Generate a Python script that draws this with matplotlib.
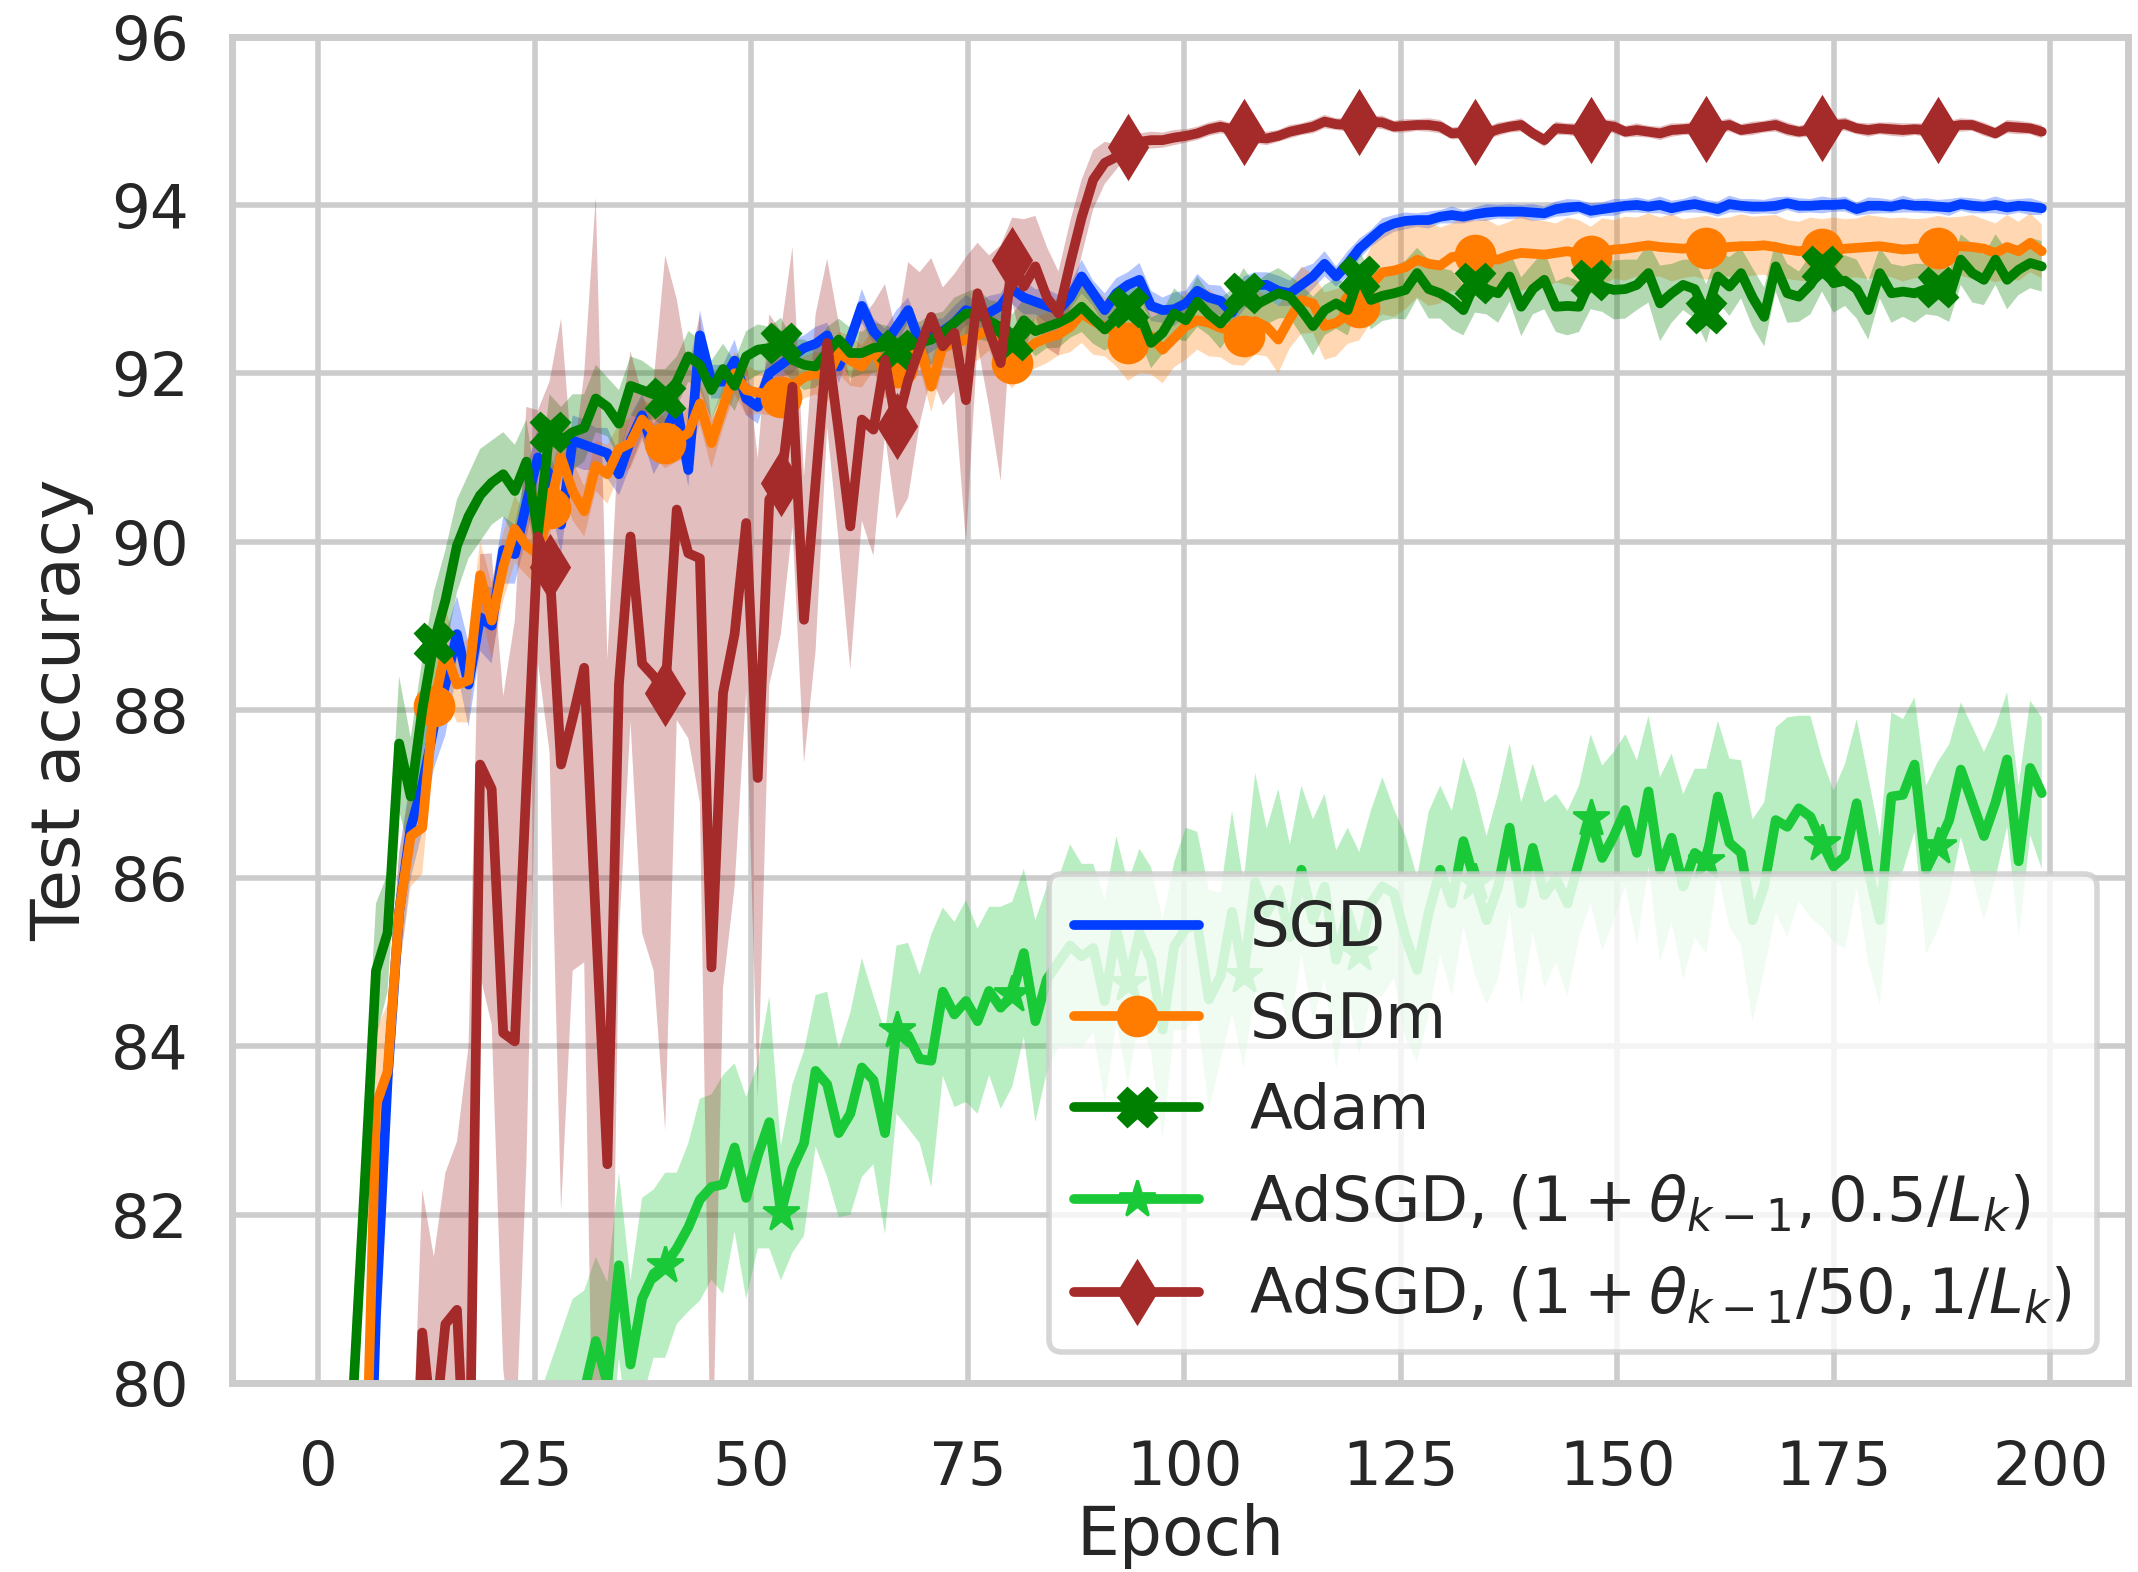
import numpy as np
import matplotlib
matplotlib.use("Agg")
import matplotlib.pyplot as plt
import seaborn as sns

sns.set_theme(style="whitegrid", context="poster")

# 150 evaluations spread over epochs 0..199
epochs = np.linspace(0, 199, 150)

sgd = [35, 55, 66, 72, 76.5, 80.8, 83.6, 85.6, 86.6, 87.1,
       87.8, 88.3, 88.9, 88.3, 89.1, 89.0, 89.9, 89.85, 90.45, 91.0,
       90.8, 90.2, 91.2, 91.15, 91.1, 91.05, 90.8, 91.2, 91.5, 91.1,
       91.3, 91.6, 90.85, 92.45, 91.9, 91.9, 92.15, 91.7, 91.6, 92.0,
       92.1, 92.2, 92.3, 92.35, 92.45, 92.08, 92.4, 92.8, 92.5, 92.35,
       92.55, 92.75, 92.36, 92.45, 92.5, 92.6, 92.75, 92.7, 92.72, 92.8,
       93.0, 92.9, 92.85, 92.8, 92.75, 92.9, 93.15, 92.95, 92.75, 92.95,
       93.05, 93.11, 92.8, 92.75, 92.76, 92.83, 92.98, 92.9, 92.86, 92.72,
       92.95, 93.05, 93.05, 92.98, 92.95, 93.05, 93.15, 93.3, 93.15, 93.3,
       93.48, 93.6, 93.72, 93.78, 93.81, 93.82, 93.82, 93.86, 93.88, 93.86,
       93.89, 93.91, 93.92, 93.92, 93.92, 93.91, 93.9, 93.95, 93.97, 93.98,
       93.93, 93.95, 93.97, 93.99, 94.0, 93.98, 94.0, 93.96, 93.99, 94.01,
       93.98, 93.95, 94.01, 93.99, 93.98, 93.98, 93.99, 94.02, 93.99, 93.99,
       94.0, 94.0, 94.01, 93.95, 93.99, 93.99, 93.98, 94.01, 93.99, 93.99,
       93.98, 93.97, 94.01, 93.99, 93.98, 94.0, 93.97, 93.99, 93.98, 93.96]
sgd_std = [1.0, 1.0, 1.0, 1.0, 1.0, 0.9, 0.8, 0.7, 0.6, 0.55,
           0.5, 0.6, 0.45, 0.5, 0.4, 0.45, 0.4, 0.35, 0.4, 0.35,
           0.3, 0.35, 0.3, 0.3, 0.25, 0.3, 0.25, 0.3, 0.25, 0.3,
           0.25, 0.25, 0.2, 0.3, 0.2, 0.2, 0.25, 0.2, 0.2, 0.2,
           0.15, 0.2, 0.15, 0.2, 0.15, 0.2, 0.15, 0.2, 0.15, 0.18,
           0.2, 0.15, 0.18, 0.2, 0.15, 0.2, 0.18, 0.15, 0.2, 0.15,
           0.18, 0.2, 0.15, 0.2, 0.18, 0.15, 0.2, 0.15, 0.2, 0.18,
           0.15, 0.2, 0.18, 0.15, 0.2, 0.15, 0.2, 0.15, 0.18, 0.15,
           0.2, 0.15, 0.15, 0.18, 0.15, 0.2, 0.15, 0.15, 0.12, 0.15,
           0.12, 0.1, 0.12, 0.1, 0.1, 0.08, 0.1, 0.08, 0.1, 0.08,
           0.08, 0.1, 0.08, 0.09, 0.08, 0.1, 0.08, 0.09, 0.1, 0.08,
           0.09, 0.08, 0.1, 0.08, 0.09, 0.08, 0.1, 0.09, 0.08, 0.1,
           0.08, 0.09, 0.1, 0.08, 0.09, 0.08, 0.1, 0.08, 0.09, 0.08,
           0.1, 0.08, 0.09, 0.08, 0.1, 0.09, 0.08, 0.1, 0.08, 0.09,
           0.08, 0.1, 0.08, 0.09, 0.08, 0.1, 0.09, 0.08, 0.1, 0.08]

sgdm = [33, 52, 64, 71, 78, 83.3, 83.7, 85.6, 86.5, 86.6,
        88.05, 88.7, 88.3, 88.35, 89.6, 89.06, 89.7, 90.15, 89.95, 89.85,
        90.4, 91.0, 90.6, 90.36, 90.9, 90.8, 91.1, 91.17, 91.45, 91.3,
        91.17, 91.2, 91.29, 91.64, 91.17, 91.6, 92.0, 91.8, 91.77, 91.75,
        91.72, 91.85, 91.95, 92.0, 91.95, 92.24, 92.15, 92.08, 92.28, 92.0,
        92.08, 92.2, 92.32, 91.84, 92.32, 92.35, 92.4, 92.45, 92.52, 92.28,
        92.12, 92.25, 92.36, 92.42, 92.46, 92.55, 92.71, 92.62, 92.55, 92.48,
        92.36, 92.4, 92.44, 92.28, 92.42, 92.56, 92.63, 92.6, 92.54, 92.5,
        92.44, 92.62, 92.55, 92.4, 92.65, 92.87, 92.83, 92.56, 92.6, 92.7,
        92.79, 93.05, 93.2, 93.22, 93.26, 93.35, 93.3, 93.28, 93.38, 93.4,
        93.41, 93.38, 93.35, 93.4, 93.43, 93.42, 93.41, 93.43, 93.45, 93.42,
        93.39, 93.44, 93.47, 93.48, 93.5, 93.52, 93.5, 93.49, 93.48, 93.5,
        93.49, 93.49, 93.5, 93.51, 93.51, 93.52, 93.5, 93.47, 93.45, 93.47,
        93.48, 93.47, 93.48, 93.49, 93.5, 93.51, 93.49, 93.47, 93.48, 93.49,
        93.49, 93.5, 93.51, 93.5, 93.48, 93.43, 93.5, 93.45, 93.55, 93.45]
sgdm_std = [1.0, 1.0, 1.0, 1.0, 1.0, 0.9, 0.8, 0.7, 0.6, 0.55,
            0.5, 0.5, 0.45, 0.5, 0.4, 0.45, 0.4, 0.4, 0.35, 0.4,
            0.35, 0.3, 0.35, 0.3, 0.3, 0.35, 0.3, 0.3, 0.25, 0.3,
            0.3, 0.25, 0.3, 0.25, 0.3, 0.25, 0.25, 0.3, 0.25, 0.25,
            0.25, 0.3, 0.25, 0.25, 0.3, 0.25, 0.3, 0.25, 0.25, 0.3,
            0.25, 0.3, 0.25, 0.3, 0.25, 0.3, 0.25, 0.3, 0.25, 0.3,
            0.3, 0.25, 0.3, 0.3, 0.25, 0.3, 0.35, 0.4, 0.35, 0.4,
            0.45, 0.4, 0.45, 0.4, 0.35, 0.4, 0.35, 0.4, 0.35, 0.4,
            0.35, 0.4, 0.35, 0.4, 0.35, 0.4, 0.35, 0.4, 0.4, 0.35,
            0.4, 0.45, 0.5, 0.55, 0.5, 0.45, 0.5, 0.45, 0.4, 0.45,
            0.4, 0.45, 0.4, 0.4, 0.45, 0.4, 0.4, 0.35, 0.4, 0.4,
            0.35, 0.4, 0.35, 0.38, 0.35, 0.38, 0.35, 0.4, 0.35, 0.35,
            0.38, 0.35, 0.35, 0.38, 0.35, 0.35, 0.38, 0.35, 0.35, 0.38,
            0.35, 0.38, 0.35, 0.35, 0.38, 0.35, 0.35, 0.38, 0.35, 0.35,
            0.38, 0.35, 0.35, 0.38, 0.35, 0.35, 0.38, 0.35, 0.35, 0.32]

adam = [40, 60, 72, 79.8, 82.3, 84.9, 85.35, 87.6, 86.97, 88.0,
        88.8, 89.3, 89.95, 90.3, 90.55, 90.7, 90.8, 90.6, 90.95, 90.1,
        91.3, 91.2, 91.3, 91.35, 91.7, 91.6, 91.4, 91.85, 91.8, 91.75,
        91.7, 91.9, 92.2, 92.1, 91.8, 92.05, 91.85, 92.2, 92.28, 92.3,
        92.36, 92.16, 92.1, 92.08, 92.25, 92.4, 92.24, 92.24, 92.3, 92.32,
        92.28, 92.32, 92.36, 92.4, 92.48, 92.6, 92.71, 92.71, 92.62, 92.55,
        92.4, 92.63, 92.5, 92.55, 92.6, 92.67, 92.79, 92.65, 92.52, 92.65,
        92.79, 92.71, 92.36, 92.48, 92.71, 92.63, 92.85, 92.7, 92.59, 92.75,
        92.95, 92.81, 92.88, 92.95, 92.91, 92.75, 92.56, 92.75, 92.83, 92.75,
        93.15, 92.87, 92.92, 92.95, 92.99, 93.19, 93.0, 92.95, 92.87, 92.75,
        93.07, 93.0, 92.95, 93.15, 92.79, 93.0, 93.11, 92.79, 92.8, 92.79,
        93.11, 93.03, 92.99, 93.0, 93.05, 93.19, 92.83, 92.95, 93.05, 93.0,
        92.71, 93.15, 93.03, 93.19, 92.9, 92.67, 93.27, 92.95, 92.91, 93.05,
        93.27, 93.07, 93.1, 93.0, 92.75, 93.19, 92.95, 92.97, 92.95, 93.0,
        93.03, 92.91, 93.35, 93.19, 93.11, 93.35, 93.11, 93.23, 93.31, 93.27]
adam_std = [1.0, 1.0, 1.0, 1.0, 0.9, 0.8, 0.7, 0.8, 0.7, 0.6,
            0.6, 0.6, 0.55, 0.5, 0.55, 0.5, 0.5, 0.55, 0.5, 0.45,
            0.45, 0.4, 0.45, 0.4, 0.4, 0.35, 0.4, 0.35, 0.35, 0.3,
            0.35, 0.3, 0.3, 0.3, 0.35, 0.3, 0.3, 0.3, 0.3, 0.25,
            0.3, 0.25, 0.3, 0.25, 0.3, 0.25, 0.3, 0.25, 0.3, 0.25,
            0.25, 0.3, 0.25, 0.3, 0.25, 0.3, 0.25, 0.3, 0.25, 0.3,
            0.3, 0.25, 0.3, 0.25, 0.3, 0.25, 0.3, 0.3, 0.25, 0.3,
            0.25, 0.3, 0.3, 0.25, 0.3, 0.25, 0.3, 0.25, 0.3, 0.25,
            0.3, 0.25, 0.3, 0.3, 0.25, 0.3, 0.35, 0.3, 0.3, 0.3,
            0.3, 0.35, 0.3, 0.3, 0.35, 0.3, 0.35, 0.3, 0.35, 0.3,
            0.35, 0.3, 0.35, 0.3, 0.35, 0.3, 0.35, 0.3, 0.35, 0.3,
            0.35, 0.3, 0.35, 0.35, 0.3, 0.35, 0.45, 0.35, 0.3, 0.35,
            0.35, 0.3, 0.35, 0.3, 0.35, 0.35, 0.3, 0.35, 0.3, 0.35,
            0.3, 0.35, 0.3, 0.35, 0.35, 0.3, 0.35, 0.3, 0.35, 0.3,
            0.35, 0.3, 0.3, 0.35, 0.3, 0.3, 0.35, 0.3, 0.3, 0.3]

adsgd_a = [35, 45, 52, 57, 61, 64, 66, 68, 70, 71,
           72.5, 73.5, 74.5, 75.5, 76, 76.8, 77.5, 78, 78.5, 78.8,
           79.2, 79.5, 79.7, 79.9, 80.5, 80.0, 81.4, 80.22, 81.0, 81.3,
           81.4, 81.6, 81.85, 82.18, 82.33, 82.36, 82.8, 82.2, 82.7, 83.1,
           82.02, 82.55, 82.85, 83.71, 83.55, 82.97, 83.2, 83.75, 83.6, 82.97,
           84.2, 84.13, 83.85, 83.83, 84.65, 84.38, 84.54, 84.3, 84.66, 84.46,
           84.62, 85.11, 84.3, 84.8, 85.0, 85.2, 85.07, 85.17, 84.54, 85.4,
           84.75, 85.35, 85.03, 84.2, 85.19, 85.4, 85.45, 84.56, 84.83, 85.6,
           84.85, 85.95, 85.59, 85.86, 85.3, 86.1, 85.5, 85.9, 85.03, 85.6,
           85.11, 85.7, 85.9, 85.82, 85.3, 84.91, 85.59, 86.1, 85.7, 86.44,
           85.95, 85.5, 85.9, 86.6, 85.7, 86.36, 85.8, 86.0, 85.7, 86.2,
           86.71, 86.24, 86.5, 86.81, 86.3, 87.03, 86.1, 86.48, 85.9, 86.3,
           86.2, 86.97, 86.42, 86.3, 85.5, 85.9, 86.69, 86.61, 86.83, 86.73,
           86.42, 86.14, 86.26, 86.89, 86.1, 85.5, 86.97, 86.99, 87.35, 86.1,
           86.38, 86.69, 87.29, 86.9, 86.5, 86.9, 87.41, 86.2, 87.31, 87.01]
adsgd_a_std = [1.0, 1.0, 1.0, 1.0, 1.0, 1.0, 1.0, 1.0, 1.0, 1.0,
               1.0, 1.0, 1.0, 1.0, 1.0, 1.0, 1.0, 1.0, 1.0, 1.0,
               1.0, 1.1, 1.3, 1.2, 1.0, 1.2, 1.1, 1.0, 1.2, 1.0,
               1.1, 0.9, 1.0, 1.2, 1.1, 1.3, 1.0, 1.2, 1.1, 1.5,
               0.8, 1.0, 1.1, 0.9, 1.1, 1.0, 1.2, 1.3, 1.0, 1.2,
               1.0, 1.1, 1.0, 1.5, 1.0, 1.1, 1.2, 1.1, 1.0, 1.2,
               1.1, 1.0, 1.2, 1.1, 1.0, 1.2, 1.1, 1.0, 1.2, 1.1,
               1.2, 1.0, 1.1, 1.3, 1.0, 1.2, 1.1, 1.3, 1.0, 1.2,
               1.1, 1.3, 1.0, 1.2, 1.1, 1.0, 1.2, 1.1, 1.3, 1.0,
               1.2, 1.1, 1.3, 1.0, 1.2, 1.1, 1.2, 1.0, 1.1, 1.0,
               1.1, 1.0, 1.1, 1.0, 1.2, 1.0, 1.1, 1.0, 1.1, 0.9,
               1.0, 1.1, 1.0, 0.9, 1.1, 0.9, 1.1, 1.0, 1.1, 1.0,
               1.1, 0.9, 1.0, 1.1, 1.2, 1.0, 1.1, 1.3, 1.1, 1.2,
               1.0, 0.9, 1.1, 1.0, 1.1, 1.0, 1.0, 0.9, 0.8, 1.0,
               1.0, 0.9, 0.8, 0.9, 1.0, 0.9, 0.8, 0.9, 0.8, 0.9]

adsgd_b = [30, 40, 50, 58, 64, 69, 72, 75, 77, 80.6,
           79.3, 80.7, 80.87, 78.0, 87.35, 87.06, 84.16, 84.06, 87.1, 90.06,
           89.7, 87.35, 87.9, 88.5, 85.5, 82.6, 88.3, 90.06, 88.55, 88.4,
           88.2, 90.38, 89.86, 89.8, 84.94, 88.2, 88.9, 90.22, 87.19, 90.5,
           90.7, 91.84, 89.07, 90.7, 92.36, 91.3, 90.18, 91.45, 91.33, 92.16,
           91.37, 91.92, 92.3, 92.67, 92.32, 92.48, 91.68, 92.95, 92.5, 92.12,
           93.35, 93.03, 93.27, 92.9, 92.71, 93.3, 93.85, 94.3, 94.5, 94.57,
           94.69, 94.75, 94.77, 94.77, 94.8, 94.82, 94.85, 94.9, 94.93, 94.9,
           94.87, 94.8, 94.79, 94.82, 94.87, 94.9, 94.93, 94.99, 94.96, 94.95,
           94.99, 94.99, 94.98, 94.93, 94.94, 94.95, 94.95, 94.93, 94.85, 94.86,
           94.87, 94.85, 94.9, 94.93, 94.95, 94.85, 94.77, 94.91, 94.9, 94.89,
           94.89, 94.95, 94.93, 94.87, 94.89, 94.87, 94.85, 94.89, 94.9, 94.91,
           94.9, 94.93, 94.95, 94.89, 94.91, 94.93, 94.95, 94.9, 94.87, 94.89,
           94.91, 94.95, 94.96, 94.91, 94.89, 94.91, 94.9, 94.89, 94.9, 94.89,
           94.89, 94.93, 94.95, 94.95, 94.9, 94.85, 94.93, 94.92, 94.91, 94.87]
adsgd_b_std = [1.0, 1.0, 1.0, 1.0, 1.0, 1.0, 1.0, 1.0, 1.5, 1.7,
               2.2, 1.8, 2.0, 6.0, 2.5, 2.8, 4.0, 5.0, 4.5, 1.5,
               2.2, 5.3, 3.0, 3.5, 8.6, 6.0, 3.0, 2.2, 3.2, 3.5,
               5.2, 2.5, 2.2, 2.9, 6.5, 3.5, 3.0, 2.0, 3.8, 2.2,
               1.8, 1.66, 1.7, 2.0, 1.0, 1.3, 1.7, 1.2, 1.5, 0.9,
               1.1, 1.4, 0.9, 0.7, 0.7, 0.7, 1.7, 0.6, 0.9, 1.4,
               0.5, 0.8, 0.6, 0.6, 0.5, 0.5, 0.45, 0.35, 0.25, 0.15,
               0.1, 0.1, 0.1, 0.09, 0.09, 0.08, 0.08, 0.08, 0.08, 0.07,
               0.08, 0.07, 0.08, 0.07, 0.08, 0.07, 0.08, 0.08, 0.07, 0.08,
               0.08, 0.07, 0.08, 0.07, 0.08, 0.07, 0.08, 0.08, 0.07, 0.08,
               0.08, 0.07, 0.08, 0.07, 0.08, 0.07, 0.08, 0.08, 0.07, 0.08,
               0.08, 0.07, 0.08, 0.07, 0.08, 0.07, 0.08, 0.08, 0.07, 0.08,
               0.08, 0.07, 0.08, 0.07, 0.08, 0.07, 0.08, 0.08, 0.07, 0.08,
               0.08, 0.07, 0.08, 0.07, 0.08, 0.07, 0.08, 0.08, 0.07, 0.08,
               0.08, 0.07, 0.08, 0.07, 0.08, 0.07, 0.08, 0.08, 0.07, 0.08]

labels = ["SGD", "SGDm", "Adam",
          r"AdSGD, $(1+\theta_{k-1}, 0.5/L_k)$",
          r"AdSGD, $(1+\theta_{k-1}/50, 1/L_k)$"]
means = [sgd, sgdm, adam, adsgd_a, adsgd_b]
stds = [sgd_std, sgdm_std, adam_std, adsgd_a_std, adsgd_b_std]
colors = ["#023eff", "#ff7c00", "green", "#1ac938", "brown"]
markers = ["", "o", "X", "*", "d"]
msizes = [14, 14, 14, 14, 16]

fig = plt.figure(figsize=(10.69, 7.86), dpi=200)
ax = fig.add_axes([0.1085, 0.1202, 0.8868, 0.8565])

for lab, m, s, c, mk, ms in zip(labels, means, stds, colors, markers, msizes):
    m = np.array(m); s = np.array(s)
    ax.plot(epochs, m, color=c, lw=3.5, marker=mk, markersize=ms,
            markevery=10, label=lab)
    ax.fill_between(epochs, m - s, m + s, color=c, alpha=0.3, linewidth=0)

ax.set_ylim(80, 96)
ax.tick_params(axis="x", pad=8)
ax.set_xlabel("Epoch", fontsize=24.5, labelpad=2)
ax.set_ylabel("Test accuracy", fontsize=24.5, labelpad=6)
ax.legend(loc="lower right", fontsize=22.5)

fig.savefig("out.png", dpi=200)
